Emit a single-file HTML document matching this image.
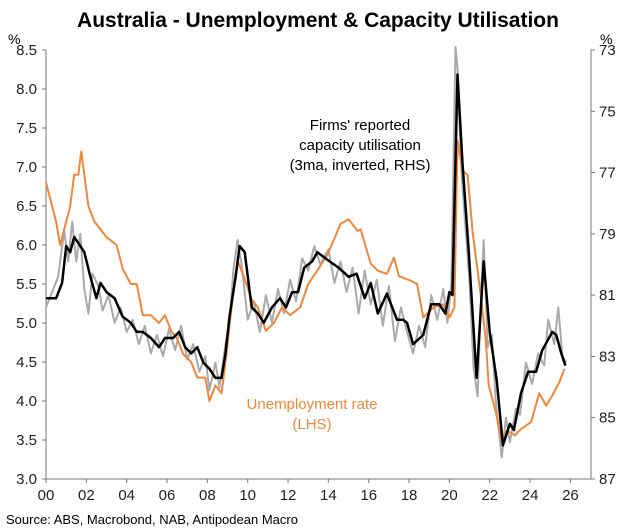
<!DOCTYPE html>
<html><head><meta charset="utf-8"><style>
body{margin:0;background:#fff;}
svg{display:block;font-family:"Liberation Sans",Arial,sans-serif;}
</style></head><body>
<svg id="chart" width="637" height="531">
<text x="318" y="27" text-anchor="middle" font-size="21" font-weight="bold" fill="#000">Australia - Unemployment &amp; Capacity Utilisation</text>
<text x="8" y="44" font-size="14">%</text>
<text x="600" y="44" font-size="14">%</text>
<g id="axes"></g>
<g id="series"></g>
<g font-size="15" text-anchor="middle" fill="#000">
<text x="360" y="130">Firms' reported</text>
<text x="360" y="150">capacity utilisation</text>
<text x="360" y="170">(3ma, inverted, RHS)</text>
</g>
<g font-size="15" text-anchor="middle" fill="#f0873a">
<text x="312" y="409">Unemployment rate</text>
<text x="312" y="429">(LHS)</text>
</g>
<text x="6" y="524" font-size="13">Source: ABS, Macrobond, NAB, Antipodean Macro</text>
</svg>
<script>
const xTickLabels=["00","02","04","06","08","10","12","14","16","18","20","22","24","26"];
const leftTicks=[3.0,3.5,4.0,4.5,5.0,5.5,6.0,6.5,7.0,7.5,8.0,8.5];
const rightTicks=[73,75,77,79,81,83,85,87];
const unempYears=[2000,2000.3,2000.5,2000.7,2001,2001.2,2001.4,2001.6,2001.75,2001.9,2002.1,2002.4,2002.7,2003,2003.5,2003.8,2004.2,2004.5,2004.8,2005.2,2005.6,2005.9,2006.2,2006.5,2006.8,2007.2,2007.5,2007.9,2008.1,2008.4,2008.7,2008.9,2009.2,2009.5,2009.8,2010.2,2010.5,2010.9,2011.3,2011.7,2012.1,2012.6,2013,2013.45,2014,2014.6,2015,2015.45,2015.6,2016.1,2016.45,2016.9,2017.25,2017.5,2018.1,2018.4,2018.7,2019.2,2019.7,2020,2020.25,2020.4,2020.65,2020.9,2021.15,2021.55,2021.8,2021.95,2022.3,2022.6,2022.85,2023.25,2023.55,2024.05,2024.45,2024.8,2025.1,2025.45,2025.7];
const unempRate=[6.8,6.5,6.3,6.0,6.3,6.5,6.9,6.9,7.2,6.9,6.5,6.3,6.2,6.1,6.0,5.7,5.5,5.5,5.1,5.1,5.0,5.1,4.9,4.8,4.6,4.5,4.3,4.3,4.0,4.2,4.1,4.5,5.2,5.8,5.6,5.3,5.2,4.9,5.0,5.2,5.1,5.2,5.5,5.67,5.9,6.27,6.33,6.18,6.2,5.76,5.67,5.63,5.84,5.6,5.54,5.5,5.07,5.2,5.24,5.07,5.2,7.34,6.95,6.9,6.17,5.36,4.8,4.2,3.86,3.47,3.62,3.56,3.64,3.73,4.1,3.94,4.07,4.24,4.41];
const capYears=[2000,2000.5,2000.8,2001,2001.2,2001.4,2001.7,2001.9,2002.2,2002.5,2002.7,2003,2003.4,2003.8,2004.2,2004.5,2004.8,2005.2,2005.6,2005.9,2006.3,2006.6,2006.9,2007.2,2007.5,2007.8,2008.1,2008.4,2008.7,2008.9,2009.1,2009.4,2009.6,2009.85,2010.2,2010.5,2010.8,2011.2,2011.6,2011.9,2012.2,2012.5,2012.8,2013.2,2013.45,2014,2014.5,2015,2015.4,2015.8,2016.1,2016.45,2016.9,2017.4,2017.7,2017.9,2018.2,2018.7,2019.1,2019.5,2019.8,2020,2020.15,2020.4,2020.65,2020.95,2021.35,2021.7,2022,2022.35,2022.65,2023,2023.2,2023.55,2023.9,2024.3,2024.6,2025.1,2025.3,2025.55,2025.75];
const capUtil3ma=[81.1,81.1,80.6,79.4,79.6,79.1,79.4,79.6,80.4,81.1,80.6,80.9,81.1,81.7,81.9,82.2,82.2,82.4,82.7,82.4,82.4,82.2,82.7,82.9,82.7,83.2,83.4,83.7,83.7,82.9,81.7,80.4,79.4,79.6,81.4,81.6,81.9,81.4,81.1,81.4,80.9,80.9,80.1,79.9,79.6,79.87,80.1,80.4,80.3,81.1,80.6,81.6,80.95,81.8,81.8,81.9,82.6,82.3,81.3,81.3,81.6,80.9,81.0,73.8,76.7,79.5,83.7,79.9,82.2,83.8,85.9,85.2,85.4,84.2,83.5,83.5,82.8,82.2,82.3,82.9,83.3];
const capRawYears=[2000,2000.3,2000.6,2000.9,2001.1,2001.3,2001.5,2001.7,2001.9,2002.1,2002.3,2002.6,2002.8,2003.1,2003.4,2003.7,2004,2004.3,2004.6,2004.9,2005.2,2005.5,2005.8,2006.1,2006.4,2006.7,2007,2007.3,2007.6,2007.9,2008.1,2008.4,2008.6,2008.9,2009.1,2009.3,2009.5,2009.7,2010,2010.3,2010.6,2010.9,2011.2,2011.5,2011.8,2012.1,2012.4,2012.7,2013,2013.3,2013.6,2014,2014.3,2014.6,2014.9,2015.2,2015.5,2015.8,2016.1,2016.4,2016.7,2017,2017.3,2017.6,2017.9,2018.2,2018.5,2018.8,2019.1,2019.4,2019.7,2019.9,2020.1,2020.3,2020.4,2020.6,2020.8,2021,2021.2,2021.4,2021.6,2021.7,2021.9,2022.1,2022.3,2022.6,2022.8,2023,2023.3,2023.5,2023.8,2024.1,2024.4,2024.7,2024.9,2025.2,2025.4,2025.6,2025.8];
const capUtilRaw=[81.4,80.9,80.4,78.9,79.9,78.6,79.9,79.0,80.8,81.6,80.3,80.7,81.5,81.0,81.9,81.4,82.2,81.8,82.6,82.0,82.9,82.3,83.0,82.1,82.8,82.0,83.1,82.6,83.5,83.0,84.1,83.2,84.0,82.6,81.9,80.1,79.2,80.0,81.8,81.2,82.2,81.0,81.9,80.8,81.6,80.5,81.2,79.8,80.2,79.4,80.0,79.5,80.6,79.9,80.9,80.1,81.6,80.2,81.3,80.5,82.0,80.7,82.5,81.4,82.2,82.9,82.0,82.7,81.0,81.8,80.8,81.9,80.6,72.9,73.6,77.0,78.8,80.6,83.4,84.3,80.5,79.2,82.7,82.3,84.5,86.3,85.0,85.8,84.7,84.9,83.2,83.9,82.9,83.3,81.8,82.6,81.4,83.0,83.2];

const x0=46,xPerYear=20.17,yTop=50,yBot=479,xRight=591;
function xs(yr){return x0+(yr-2000)*xPerYear;}
function yl(v){return yBot-(v-3.0)/(8.5-3.0)*(yBot-yTop);}
function yr_(v){return yTop+(v-73)/(87-73)*(yBot-yTop);}
const NS="http://www.w3.org/2000/svg";
const axes=document.getElementById('axes'),series=document.getElementById('series');
function mk(tag,attrs,parent){const e=document.createElementNS(NS,tag);for(const k in attrs)e.setAttribute(k,attrs[k]);parent.appendChild(e);return e;}

let e=mk('line',{x1:x0,y1:yTop,x2:x0,y2:yBot,stroke:'#777','stroke-width':1},axes);


e=mk('line',{x1:xRight,y1:yTop,x2:xRight,y2:yBot,stroke:'#777','stroke-width':1},axes);


e=mk('line',{x1:x0,y1:yBot,x2:xRight,y2:yBot,stroke:'#777','stroke-width':1},axes);



leftTicks.forEach(v=>{
 const y=yl(v);
 mk('line',{x1:x0-4,y1:y,x2:x0,y2:y,stroke:'#777'},axes);
 const t=mk('text',{x:37,y:y+5,'text-anchor':'end','font-size':15,fill:'#222'},axes);
 t.textContent=v.toFixed(1);
 
 
});
rightTicks.forEach(v=>{
 const y=yr_(v);
 mk('line',{x1:xRight,y1:y,x2:xRight+4,y2:y,stroke:'#777'},axes);
 const t=mk('text',{x:599,y:y+5,'font-size':15,fill:'#222'},axes);
 t.textContent=v;
 
 
});
xTickLabels.forEach((l,i)=>{
 const x=xs(2000+i*2);
 mk('line',{x1:x,y1:yBot,x2:x,y2:yBot+4,stroke:'#777'},axes);
 const t=mk('text',{x:x,y:500,'text-anchor':'middle','font-size':15,fill:'#222'},axes);
 t.textContent=l;
 
 
});
function path(xsArr,vals,yf,col,w,name){
 const d=vals.map((v,i)=>(i?'L':'M')+xs(xsArr[i]).toFixed(1)+','+yf(v).toFixed(1)).join('');
 const p=mk('path',{d:d,fill:'none',stroke:col,'stroke-width':w,'stroke-linejoin':'round'},series);
 
 
}
path(capRawYears,capUtilRaw,yr_,'#aaaaaa',2,'capacity-utilisation-raw-line');
path(unempYears,unempRate,yl,'#f0873a',2,'unemployment-rate-line');
path(capYears,capUtil3ma,yr_,'#000000',2.5,'capacity-utilisation-3ma-line');
</script>
</body></html>
